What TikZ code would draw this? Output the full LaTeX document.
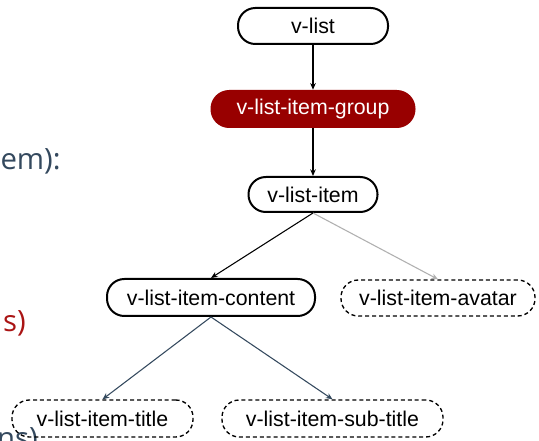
\documentclass[tikz,border=0pt]{standalone}
\usepackage{fontspec}
\setmainfont{Liberation Sans}
\newfontfamily\sidefont{Open Sans}
\usetikzlibrary{arrows.meta}
\definecolor{groupred}{RGB}{152,0,0}
\definecolor{slate}{RGB}{52,73,94}
\definecolor{sidered}{RGB}{170,20,20}
\definecolor{lightarrow}{RGB}{176,176,176}
\begin{document}
\begin{tikzpicture}[x=0.75pt,y=-0.75pt,
		solidbox/.style={draw=black,line width=1.5pt,fill=white,rounded corners=13pt,inner sep=0pt,font=\fontsize{16}{19}\selectfont},
		dashbox/.style={draw=black,line width=1pt,dash pattern=on 3pt off 2.2pt,rounded corners=13pt,inner sep=0pt,font=\fontsize{16}{19}\selectfont},
		groupbox/.style={fill=groupred,text=white,rounded corners=14pt,inner sep=0pt,font=\fontsize{16}{19}\selectfont},
		sidetext/.style={inner sep=0pt,anchor=base east,font=\sidefont\fontsize{22}{26}\selectfont},
		link/.style={line width=0.8pt,-{Stealth[length=5pt,width=4.2pt]}}]
				\clip (0,0) rectangle (539,441);
				\fill[white] (0,0) rectangle (539,441);
				% left side text, cut off by the frame
				\node[sidetext,text=slate] (frag1) at (61,170) {em):};
				\node[sidetext,text=sidered] (frag2) at (26,332) {s)};
				\node[sidetext,text=slate] (frag3) at (38,448) {ns)};
				% the tree
				\node[solidbox,minimum width=112.5pt,minimum height=27pt] (vlist) at (313,26) {v-list};
				\node[groupbox,minimum width=153.75pt,minimum height=28.5pt] (group) at (313,109) {v-list-item-group};
				\node[solidbox,minimum width=96.75pt,minimum height=26.25pt] (item) at (313,194.5) {v-list-item};
				\node[solidbox,minimum width=156pt,minimum height=27.75pt] (content) at (211,297.5) {v-list-item-content};
				\node[dashbox,minimum width=145.5pt,minimum height=27pt] (avatar) at (438,298) {v-list-item-avatar};
				\node[dashbox,minimum width=135.75pt,minimum height=27.75pt] (title) at (102.5,418.5) {v-list-item-title};
				\node[dashbox,minimum width=165.75pt,minimum height=27.75pt] (subtitle) at (332.5,418.5) {v-list-item-sub-title};
				\draw[link] (vlist) -- (group);
				\draw[link] (group) -- (item);
				\draw[link] (item.south) -- (content.north);
				\draw[link,lightarrow] (item.south) -- (avatar.north);
				\draw[link,slate] (content.south) -- (title.north);
				\draw[link,slate] (content.south) -- (subtitle.north);
	\end{tikzpicture}
\end{document}
